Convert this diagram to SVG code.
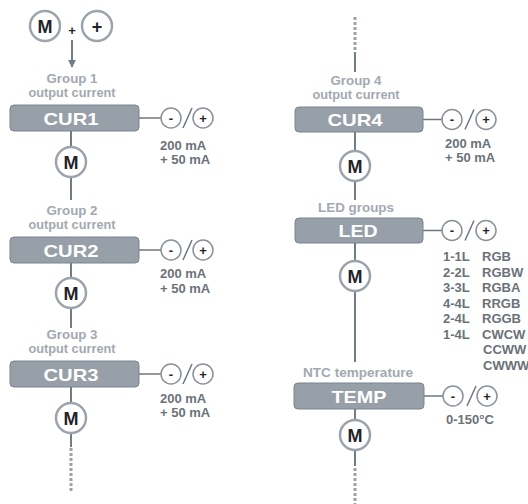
<svg xmlns="http://www.w3.org/2000/svg" width="528" height="504" viewBox="0 0 528 504">
<style>
.bg{fill:#ffffff}
.ln{stroke:#737c84;stroke-width:2;fill:none}
.thin{stroke:#6e777f;stroke-width:1.5;fill:none}
.dot{stroke:#9aa2aa;stroke-width:3;stroke-dasharray:3 2;fill:none}
.box{fill:#97a0a9;stroke:#7b848c;stroke-width:1}
.btx{font-family:"Liberation Sans",Arial,sans-serif;font-weight:bold;font-size:17px;fill:#ffffff;text-anchor:middle}
.cap{font-family:"Liberation Sans",Arial,sans-serif;font-weight:bold;font-size:12px;fill:#a3a9b0;text-anchor:middle}
.val{font-family:"Liberation Sans",Arial,sans-serif;font-weight:bold;font-size:13px;fill:#6b7279}
.mc{fill:#ffffff;stroke:#9ba3ab;stroke-width:2.5}
.mt{font-family:"Liberation Sans",Arial,sans-serif;font-weight:bold;font-size:18px;fill:#1f2428;text-anchor:middle}
.sc{fill:#ffffff;stroke:#8a929a;stroke-width:1.5}
.st{font-family:"Liberation Sans",Arial,sans-serif;font-weight:bold;font-size:13px;fill:#1f2428;text-anchor:middle}
</style>
<defs>
<marker id="ah" viewBox="0 0 10 10" refX="9" refY="5" markerWidth="4" markerHeight="4" orient="auto" markerUnits="strokeWidth">
<path d="M0,0 L10,5 L0,10 z" fill="#737c84"/>
</marker>
</defs>
<rect class="bg" x="0" y="0" width="528" height="504"/>

<g id="connectors">
<line class="ln" x1="72" y1="40" x2="72" y2="67" marker-end="url(#ah)"/>
<line class="ln" x1="71" y1="131" x2="71" y2="147"/>
<line class="ln" x1="71" y1="177" x2="71" y2="200"/>
<line class="ln" x1="71" y1="263" x2="71" y2="278"/>
<line class="ln" x1="71" y1="308" x2="71" y2="328"/>
<line class="ln" x1="71" y1="387" x2="71" y2="403"/>
<line class="ln" x1="71" y1="433" x2="71" y2="447"/>
<line class="dot" x1="71" y1="448" x2="71" y2="492"/>
<line class="thin" x1="139" y1="118" x2="161" y2="118"/>
<line class="thin" x1="139" y1="250" x2="161" y2="250"/>
<line class="thin" x1="139" y1="374" x2="161" y2="374"/>
<line class="dot" x1="355" y1="17" x2="355" y2="53"/>
<line class="ln" x1="355" y1="53" x2="355" y2="72"/>
<line class="ln" x1="355" y1="132" x2="355" y2="151"/>
<line class="ln" x1="355" y1="181" x2="355" y2="200"/>
<line class="ln" x1="355" y1="243" x2="355" y2="261"/>
<line class="ln" x1="355" y1="291" x2="355" y2="362"/>
<line class="ln" x1="355" y1="409" x2="355" y2="420"/>
<line class="ln" x1="355" y1="450" x2="355" y2="466"/>
<line class="dot" x1="355" y1="468" x2="355" y2="504"/>
<line class="thin" x1="423" y1="119.5" x2="442" y2="119.5"/>
<line class="thin" x1="423" y1="230.5" x2="442" y2="230.5"/>
<line class="thin" x1="424" y1="396" x2="443" y2="396"/>
</g>

<g id="top">
<circle class="mc" cx="45" cy="26" r="15"/>
<text class="mt" x="45" y="32.5">M</text>
<circle class="mc" cx="97" cy="26" r="15"/>
<text class="mt" x="97" y="32.5">+</text>
<text class="st" x="72" y="35">+</text>
</g>

<g id="cur1">
<text class="cap" x="72" y="83" textLength="51" lengthAdjust="spacingAndGlyphs">Group 1</text>
<text class="cap" x="72" y="97" textLength="87" lengthAdjust="spacingAndGlyphs">output current</text>
<rect class="box" x="10" y="105" width="129" height="26" rx="4"/>
<text class="btx" x="71" y="124.5" textLength="55" lengthAdjust="spacingAndGlyphs">CUR1</text>
<circle class="mc" cx="71" cy="162" r="15"/>
<text class="mt" x="71" y="168.5">M</text>
<circle class="sc" cx="171" cy="118" r="10"/>
<text class="st" x="171" y="122.5">-</text>
<line class="thin" x1="183" y1="128" x2="192" y2="108"/>
<circle class="sc" cx="203" cy="118" r="10"/>
<text class="st" x="203" y="122.5">+</text>
<text class="val" x="160" y="150">200 mA</text>
<text class="val" x="160" y="164">+ 50 mA</text>
</g>

<g id="cur2">
<text class="cap" x="72" y="215" textLength="51" lengthAdjust="spacingAndGlyphs">Group 2</text>
<text class="cap" x="72" y="229" textLength="87" lengthAdjust="spacingAndGlyphs">output current</text>
<rect class="box" x="10" y="237" width="129" height="26" rx="4"/>
<text class="btx" x="71" y="256.5" textLength="55" lengthAdjust="spacingAndGlyphs">CUR2</text>
<circle class="mc" cx="71" cy="293" r="15"/>
<text class="mt" x="71" y="299.5">M</text>
<circle class="sc" cx="171" cy="250" r="10"/>
<text class="st" x="171" y="254.5">-</text>
<line class="thin" x1="183" y1="260" x2="192" y2="240"/>
<circle class="sc" cx="203" cy="250" r="10"/>
<text class="st" x="203" y="254.5">+</text>
<text class="val" x="160" y="278">200 mA</text>
<text class="val" x="160" y="293">+ 50 mA</text>
</g>

<g id="cur3">
<text class="cap" x="72" y="339" textLength="51" lengthAdjust="spacingAndGlyphs">Group 3</text>
<text class="cap" x="72" y="353" textLength="87" lengthAdjust="spacingAndGlyphs">output current</text>
<rect class="box" x="10" y="361" width="129" height="26" rx="4"/>
<text class="btx" x="71" y="380.5" textLength="55" lengthAdjust="spacingAndGlyphs">CUR3</text>
<circle class="mc" cx="71" cy="418" r="15"/>
<text class="mt" x="71" y="424.5">M</text>
<circle class="sc" cx="171" cy="374" r="10"/>
<text class="st" x="171" y="378.5">-</text>
<line class="thin" x1="183" y1="384" x2="192" y2="364"/>
<circle class="sc" cx="203" cy="374" r="10"/>
<text class="st" x="203" y="378.5">+</text>
<text class="val" x="160" y="403">200 mA</text>
<text class="val" x="160" y="417">+ 50 mA</text>
</g>

<g id="cur4">
<text class="cap" x="356" y="85" textLength="51" lengthAdjust="spacingAndGlyphs">Group 4</text>
<text class="cap" x="356" y="99" textLength="87" lengthAdjust="spacingAndGlyphs">output current</text>
<rect class="box" x="295" y="107" width="128" height="25" rx="4"/>
<text class="btx" x="355" y="126" textLength="55" lengthAdjust="spacingAndGlyphs">CUR4</text>
<circle class="mc" cx="355" cy="166" r="15"/>
<text class="mt" x="355" y="172.5">M</text>
<circle class="sc" cx="452" cy="119.5" r="10"/>
<text class="st" x="452" y="124">-</text>
<line class="thin" x1="465" y1="129.5" x2="474" y2="109.5"/>
<circle class="sc" cx="486" cy="119.5" r="10"/>
<text class="st" x="486" y="124">+</text>
<text class="val" x="445" y="148">200 mA</text>
<text class="val" x="445" y="162">+ 50 mA</text>
</g>

<g id="led">
<text class="cap" x="356" y="212" textLength="76" lengthAdjust="spacingAndGlyphs">LED groups</text>
<rect class="box" x="295" y="218" width="128" height="25" rx="4"/>
<text class="btx" x="358" y="237" textLength="39" lengthAdjust="spacingAndGlyphs">LED</text>
<circle class="mc" cx="355" cy="276" r="15"/>
<text class="mt" x="355" y="282.5">M</text>
<circle class="sc" cx="452" cy="230.5" r="10"/>
<text class="st" x="452" y="235">-</text>
<line class="thin" x1="465" y1="240.5" x2="474" y2="220.5"/>
<circle class="sc" cx="486" cy="230.5" r="10"/>
<text class="st" x="486" y="235">+</text>
<text class="val" x="443" y="261">1-1L</text><text class="val" x="482" y="261">RGB</text>
<text class="val" x="443" y="276.5">2-2L</text><text class="val" x="482" y="276.5">RGBW</text>
<text class="val" x="443" y="292">3-3L</text><text class="val" x="482" y="292">RGBA</text>
<text class="val" x="443" y="307.5">4-4L</text><text class="val" x="482" y="307.5">RRGB</text>
<text class="val" x="443" y="323">2-4L</text><text class="val" x="482" y="323">RGGB</text>
<text class="val" x="443" y="338.5">1-4L</text><text class="val" x="482" y="338.5">CWCW</text>
<text class="val" x="483" y="354">CCWW</text>
<text class="val" x="483" y="369.5">CWWW</text>
</g>

<g id="temp">
<text class="cap" x="358" y="377" textLength="110" lengthAdjust="spacingAndGlyphs">NTC temperature</text>
<rect class="box" x="294" y="383" width="130" height="26" rx="4"/>
<text class="btx" x="359" y="402.5" textLength="55" lengthAdjust="spacingAndGlyphs">TEMP</text>
<circle class="mc" cx="355" cy="435" r="15"/>
<text class="mt" x="355" y="441.5">M</text>
<circle class="sc" cx="453" cy="396" r="10"/>
<text class="st" x="453" y="400.5">-</text>
<line class="thin" x1="467" y1="406" x2="476" y2="386"/>
<circle class="sc" cx="487" cy="396" r="10"/>
<text class="st" x="487" y="400.5">+</text>
<text class="val" x="446" y="424">0-150°C</text>
</g>
</svg>
